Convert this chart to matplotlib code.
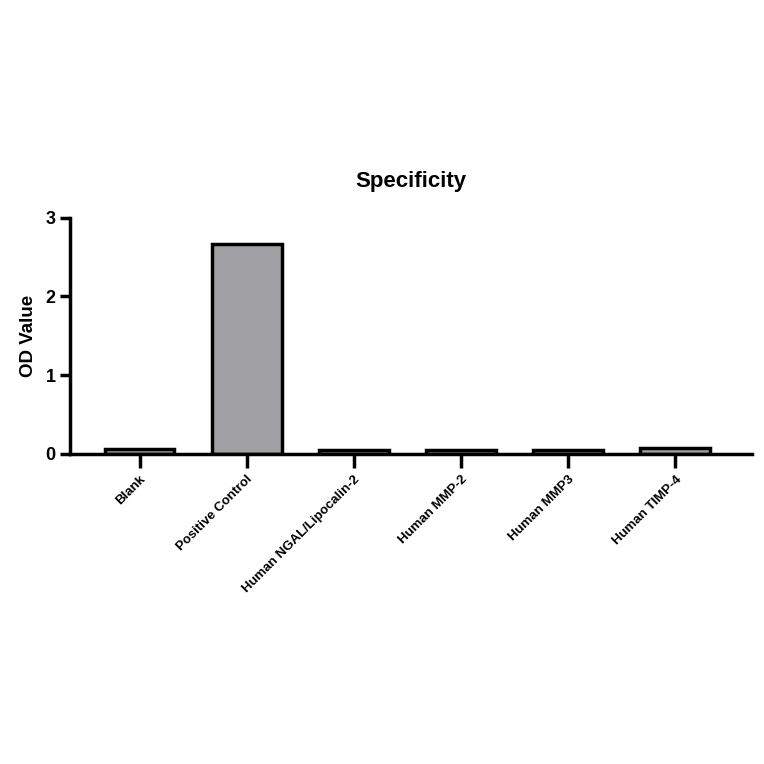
import numpy as np
import matplotlib.pyplot as plt

plt.rcParams['font.family'] = ['Liberation Sans', 'DejaVu Sans']
plt.rcParams['font.weight'] = 'bold'

categories = ['Blank', 'Positive Control', 'Human NGAL/Lipocalin-2',
              'Human MMP-2', 'Human MMP3', 'Human TIMP-4']
od_values = [0.06, 2.67, 0.05, 0.05, 0.05, 0.07]
y_ticks = [0, 1, 2, 3]

fig = plt.figure(figsize=(7.64, 7.64), dpi=100)
ax = fig.add_axes([0.0916, 0.406, 0.893, 0.309])

x = np.arange(len(categories))
ax.bar(x, od_values, width=0.65, color='#a1a1a5', edgecolor='black', linewidth=2.5, zorder=2)

ax.set_xlim(-0.65, 5.72)
ax.set_ylim(0, 3)
ax.set_yticks(y_ticks)
ax.set_xticks(x)
ax.set_xticklabels(categories, rotation=45, ha='right', rotation_mode='anchor',
                   fontsize=9.5, fontweight='bold')
ax.tick_params(axis='y', labelsize=13, width=2.5, length=7)
ax.tick_params(axis='x', width=2.5, length=10, pad=4)
for lab in ax.get_yticklabels():
    lab.set_fontweight('bold')

for s in ['top', 'right']:
    ax.spines[s].set_visible(False)
for s in ['left', 'bottom']:
    ax.spines[s].set_linewidth(2.5)

ax.set_ylabel('OD Value', fontsize=13.5, fontweight='bold', labelpad=6)
ax.set_title('Specificity', fontsize=16, fontweight='bold', pad=22)

fig.savefig('out.png', dpi=100)
